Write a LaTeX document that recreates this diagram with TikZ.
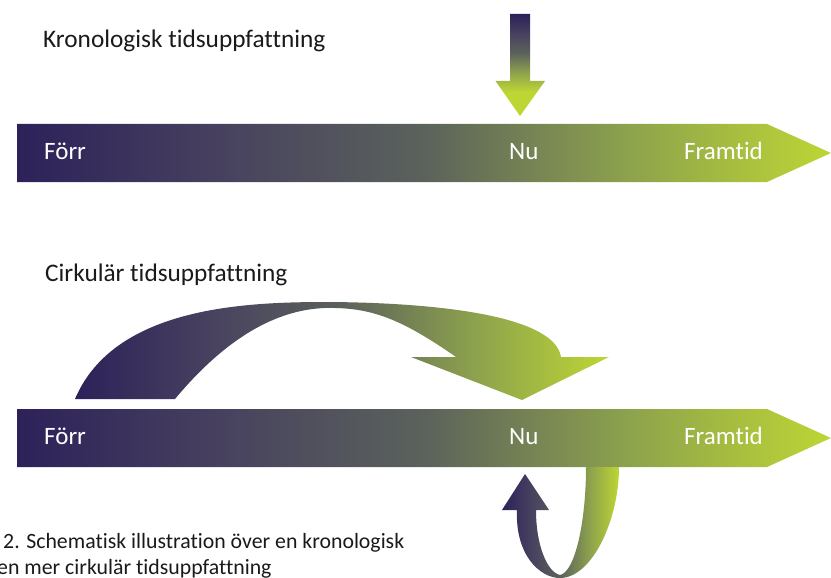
\documentclass[tikz,border=0pt]{standalone}
\usepackage{fontspec}
\setmainfont{Carlito}[Ligatures={NoCommon}]
\definecolor{g0}{HTML}{2D2159}
\definecolor{g1}{HTML}{47415F}
\definecolor{g2}{HTML}{5B625B}
\definecolor{g3}{HTML}{8DA24D}
\definecolor{g4}{HTML}{BDD634}
\definecolor{txt}{HTML}{1A1A1A}
\pgfdeclarehorizontalshading{tgrad}{100bp}{color(0bp)=(g0); color(25bp)=(g0); color(37.5bp)=(g1); color(50bp)=(g2); color(62.5bp)=(g3); color(75bp)=(g4); color(100bp)=(g4)}
\pgfdeclareverticalshading{vgrad}{100bp}{color(0bp)=(g4); color(25bp)=(g4); color(37.5bp)=(g3); color(50bp)=(g2); color(62.5bp)=(g1); color(75bp)=(g0); color(100bp)=(g0)}
\tikzset{
  title/.style={anchor=base west, inner sep=0pt, text=txt, font=\fontsize{25.3}{30}\selectfont},
  barlabel/.style={anchor=base west, inner sep=0pt, text=white, font=\fontsize{25}{30}\selectfont},
  caption/.style={anchor=base west, inner sep=0pt, text=txt, font=\fontsize{21.8}{26}\selectfont},
}
\begin{document}
\begin{tikzpicture}[x=1pt,y=-1pt]
\useasboundingbox (0,0) rectangle (831,578);
\clip (0,0) rectangle (831,578);

% ---- top: chronological ----
\node[title] (t1) at (43,48) {Kronologisk tidsuppfattning};
\begin{scope}
  \clip (510,14) -- (530,14) -- (530,81) -- (545,81) -- (520,116) -- (495.5,81) -- (510,81) -- cycle;
  \shade[shading=vgrad] (495,14) rectangle (546,92);
  \fill[g4] (495,92) rectangle (546,117);
\end{scope}
\begin{scope}
  \clip (17,124) -- (767,124) -- (831,153) -- (767,182) -- (17,182) -- cycle;
  \shade[shading=tgrad] (17,124) rectangle (831,182);
\end{scope}
\node[barlabel] (f1) at (44,159) {Förr};
\node[barlabel] (n1) at (509,159) {Nu};
\node[barlabel] (r1) at (684,159) {Framtid};

% ---- bottom: circular ----
\node[title] (t2) at (45,281) {Cirkulär tidsuppfattning};
\begin{scope}
  \clip (75,399) .. controls (115,305) and (250,302) .. (330,302)
        .. controls (450,303) and (555,318) .. (561,357)
        -- (609,357) -- (522,400) -- (411,357) -- (456,357)
        .. controls (400,318) and (370,307) .. (325,308)
        .. controls (270,310) and (220,345) .. (175,399) -- cycle;
  \shade[shading=tgrad] (75,300) rectangle (609,400);
\end{scope}
\begin{scope}
  \clip (17,409) -- (767,409) -- (831,438) -- (767,467) -- (17,467) -- cycle;
  \shade[shading=tgrad] (17,409) rectangle (831,467);
\end{scope}
\node[barlabel] (f2) at (44,444) {Förr};
\node[barlabel] (n2) at (509,444) {Nu};
\node[barlabel] (r2) at (684,444) {Framtid};
\begin{scope}
  \clip (517,510) .. controls (515,555) and (540,578) .. (560,578)
        .. controls (592,578) and (619,520) .. (619,467)
        -- (586,467) .. controls (586,522) and (575,572) .. (560,575)
        .. controls (547,572) and (536,545) .. (536,510)
        -- (549,510) -- (525,474) -- (502,510) -- cycle;
  \shade[shading=tgrad] (502,467) rectangle (619,578);
\end{scope}

% ---- caption ----
\node[caption] (c1) at (3,548) {2. Schematisk illustration över en kronologisk};
\node[caption] (c2) at (-3,574) {en mer cirkulär tidsuppfattning};
\end{tikzpicture}
\end{document}
